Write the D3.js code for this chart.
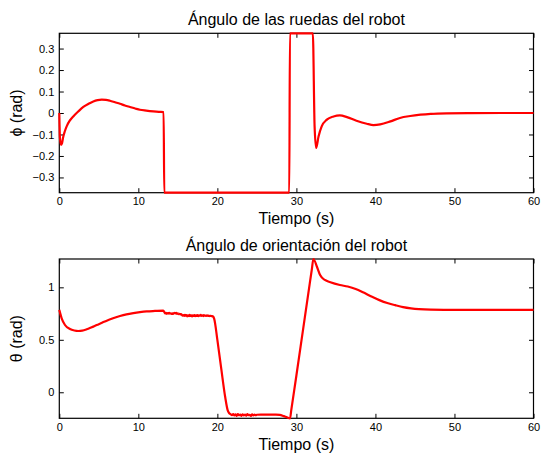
<!DOCTYPE html>
<html>
<head>
<meta charset="utf-8">
<script src="https://cdn.jsdelivr.net/npm/d3@7/dist/d3.min.js"></script>
<style>
  html, body { margin: 0; padding: 0; background: #fff; }
  svg { display: block; }
  text { font-family: "Liberation Sans", Arial, Helvetica, sans-serif; fill: #000; }
</style>
</head>
<body>
<svg id="chart" width="541" height="458"></svg>
<script>
// Wheel steering angle phi (rad) over time (s); saturates at the steering limit.
const phiTime = [0, 0.08, 0.22, 0.35, 0.51, 0.7, 0.93, 1.3, 1.77, 2.4, 3.04, 3.7, 4.3, 4.85, 5.37, 5.9, 6.42, 7.05, 7.68, 8.3, 8.95, 9.6, 10.2, 11.0, 11.9, 12.6, 13.2,
  13.28, 29.1, 29.18, 32.08, 32.3, 32.5, 32.8, 33.2, 33.85, 34.7, 35.5, 36.4, 37.6, 38.9, 39.75, 40.6, 41.9, 43.1, 44.4, 45.7, 47.0, 49.0, 52.0, 56.0, 60.0];
const phiValue = [0, -0.115, -0.148, -0.14, -0.109, -0.085, -0.062, -0.037, -0.016, 0.007, 0.028, 0.043, 0.054, 0.06, 0.062, 0.061, 0.057, 0.05, 0.043, 0.035, 0.028, 0.021, 0.015, 0.011, 0.0075, 0.0055, 0.0045,
  -0.371, -0.371, 0.371, 0.371, -0.06, -0.163, -0.109, -0.062, -0.031, -0.016, -0.011, -0.019, -0.036, -0.05, -0.056, -0.053, -0.039, -0.023, -0.014, -0.008, -0.004, -0.0015, -0.0005, 0, 0];

// Robot heading theta (rad) over time (s).
const thetaTime = [0, 0.3, 0.72, 1.35, 1.9, 2.4, 2.9, 3.47, 4.1, 4.73, 5.4, 6.0, 6.8, 7.68, 8.5, 9.37, 10.2, 11.06, 12.1, 13.16,
  13.3, 13.4, 13.5, 13.6, 13.7, 13.8, 13.9, 14.0, 14.1, 14.2, 14.3, 14.4, 14.5, 14.6, 14.7, 14.8, 14.9, 15.0, 15.1, 15.2,
  15.3, 15.4, 15.5, 15.6, 15.7, 15.8, 15.9, 16.0, 16.1, 16.2, 16.3, 16.4, 16.5, 16.6, 16.7, 16.8, 16.9, 17.0, 17.1, 17.2,
  17.3, 17.4, 17.5, 17.6, 17.7, 17.8, 17.9, 18.0, 18.1, 18.2, 18.3, 18.4, 18.5, 18.6, 18.7, 18.8, 18.9, 19.0, 19.1, 19.2,
  19.3, 19.45, 19.6, 20.0, 20.5, 21.0, 21.3, 21.5, 21.7,
  21.85, 22.0, 22.15, 22.3, 22.45, 22.6, 22.75, 22.9, 23.05, 23.2, 23.35, 23.5, 23.65, 23.8, 23.95, 24.1, 24.25, 24.4, 24.55, 24.7, 24.85, 25.0,
  25.5, 26.5, 27.4, 27.9, 28.4, 28.8, 29.2, 29.35, 30.0, 30.8, 31.6, 31.95, 32.15, 32.6, 33.0, 33.6, 34.3, 35.5, 36.5, 37.5, 38.5, 39.5, 40.5, 41.5, 42.5, 43.5, 44.5, 45.5, 47.0, 50.0, 55.0, 60.0];
const thetaValue = [0.785, 0.705, 0.641, 0.603, 0.589, 0.584, 0.587, 0.6, 0.62, 0.641, 0.662, 0.682, 0.705, 0.727, 0.743, 0.755, 0.764, 0.771, 0.775, 0.778,
  0.762, 0.752, 0.758, 0.748, 0.755, 0.750, 0.757, 0.749, 0.753, 0.746, 0.752, 0.747, 0.754, 0.758, 0.751, 0.756, 0.748, 0.752, 0.744, 0.748,
  0.741, 0.746, 0.738, 0.730, 0.736, 0.727, 0.738, 0.729, 0.735, 0.724, 0.733, 0.726, 0.737, 0.728, 0.734, 0.723, 0.732, 0.727, 0.736, 0.725,
  0.733, 0.728, 0.735, 0.726, 0.734, 0.729, 0.737, 0.727, 0.733, 0.726, 0.735, 0.729, 0.731, 0.727, 0.734, 0.728, 0.730, 0.726, 0.729, 0.727,
  0.726, 0.722, 0.70, 0.50, 0.22, -0.05, -0.17, -0.2, -0.21,
  -0.218, -0.207, -0.221, -0.211, -0.224, -0.209, -0.219, -0.213, -0.226, -0.21, -0.22, -0.212, -0.223, -0.208, -0.218, -0.214, -0.225, -0.211, -0.221, -0.213, -0.219, -0.214,
  -0.213, -0.213, -0.213, -0.215, -0.227, -0.238, -0.248, -0.17, 0.16, 0.575, 0.99, 1.17, 1.27, 1.196, 1.117, 1.07, 1.048, 1.022, 1.008, 0.985, 0.95, 0.912, 0.878, 0.85, 0.83, 0.812, 0.80, 0.792, 0.787, 0.785, 0.785, 0.785];

// Axis ticks and text
const timeTicks = [0, 10, 20, 30, 40, 50, 60];
const phiTicks = [-0.3, -0.2, -0.1, 0, 0.1, 0.2, 0.3];
const thetaTicks = [0, 0.5, 1];
const titles = ["Ángulo de las ruedas del robot", "Ángulo de orientación del robot"];
const xLabel = "Tiempo (s)";
const yLabels = ["\u03d5 (rad)", "\u03b8 (rad)"];

const svg = d3.select("#chart");
const fmt = d3.format("~g");
const tickLen = 4.5;

function panel(opts) {
  const { top, bottom, left, right, time, value, yTicks, title, yLabel } = opts;
  const x = d3.scaleLinear().domain([0, 60]).range([left, right]);
  const y = d3.scaleLinear().domain(d3.extent(value)).range([bottom, top]);
  const g = svg.append("g");

  // tick marks pointing inward on all four sides
  const axes = [
    [d3.axisBottom(x).tickValues(timeTicks).tickFormat(fmt), `translate(0,${bottom})`],
    [d3.axisTop(x).tickValues(timeTicks).tickFormat(""), `translate(0,${top})`],
    [d3.axisLeft(y).tickValues(yTicks).tickFormat(fmt), `translate(${left},0)`],
    [d3.axisRight(y).tickValues(yTicks).tickFormat(""), `translate(${right},0)`]
  ];
  axes.forEach(([ax, tr]) => {
    const a = g.append("g").attr("transform", tr)
      .call(ax.tickSizeInner(-tickLen).tickSizeOuter(0).tickPadding(5));
    a.select(".domain").remove();
    a.selectAll(".tick line").attr("stroke", "#000").attr("stroke-width", 1);
    a.selectAll(".tick text").attr("fill", "#000")
      .style("font-family", "'Liberation Sans', Arial, sans-serif").style("font-size", "11px");
  });

  // axes box
  g.append("rect")
    .attr("x", left).attr("y", top)
    .attr("width", right - left).attr("height", bottom - top)
    .attr("fill", "none").attr("stroke", "#000").attr("stroke-width", 1.2);

  // data line
  const pts = time.map((t, i) => [t, value[i]]);
  const line = d3.line().x(d => x(d[0])).y(d => y(d[1])).curve(d3.curveMonotoneX);
  g.append("path").datum(pts)
    .attr("d", line)
    .attr("fill", "none").attr("stroke", "#ff0000")
    .attr("stroke-width", 2.2).attr("stroke-linejoin", "round");

  // title
  g.append("text").attr("x", (left + right) / 2).attr("y", top - 8.5)
    .attr("text-anchor", "middle").style("font-size", "16px").text(title);
  // x label
  g.append("text").attr("x", (left + right) / 2).attr("y", bottom + 31.5)
    .attr("text-anchor", "middle").style("font-size", "16px").text(xLabel);
  // y label
  g.append("text")
    .attr("transform", `translate(22,${(top + bottom) / 2}) rotate(-90)`)
    .attr("text-anchor", "middle").style("font-size", "16px").text(yLabel);
}

panel({ top: 33.3, bottom: 192.7, left: 59.3, right: 533.5, time: phiTime, value: phiValue,
  yTicks: phiTicks, title: titles[0], yLabel: yLabels[0] });
panel({ top: 259, bottom: 418.3, left: 59.3, right: 533.5, time: thetaTime, value: thetaValue,
  yTicks: thetaTicks, title: titles[1], yLabel: yLabels[1] });
</script>
</body>
</html>
